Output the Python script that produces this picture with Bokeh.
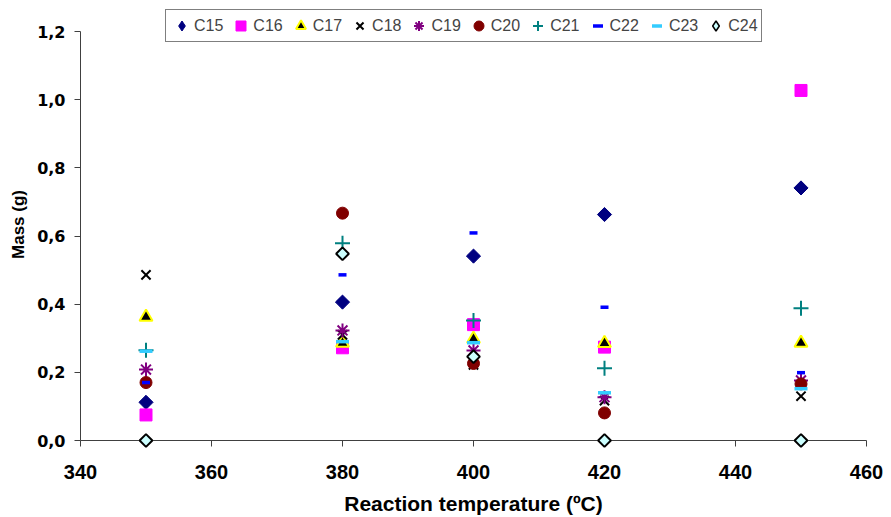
import math
from bokeh.plotting import figure
from bokeh.models import Legend, LegendItem, CustomJSTickFormatter, FixedTicker, Range1d
from bokeh.embed import file_html
from bokeh.resources import INLINE

temps = [350, 380, 400, 420, 450]
names = ["C15", "C16", "C17", "C18", "C19", "C20", "C21", "C22", "C23", "C24"]
c15 = [0.112, 0.406, 0.541, 0.663, 0.741]
c16 = [0.075, 0.272, 0.340, 0.274, 1.027]
c17 = [0.362, 0.286, 0.298, 0.285, 0.286]
c18 = [0.486, 0.310, 0.222, 0.117, 0.130]
c19 = [0.208, 0.323, 0.264, 0.127, 0.176]
c20 = [0.170, 0.667, 0.226, 0.081, 0.166]
c21 = [0.265, 0.579, 0.352, 0.212, 0.388]
c22 = [0.170, 0.486, 0.609, 0.391, 0.199]
c23 = [0.262, 0.290, 0.287, 0.140, 0.152]
c24 = [0.0, 0.548, 0.246, 0.0, 0.0]
series = [c15, c16, c17, c18, c19, c20, c21, c22, c23, c24]

x_ticks = [340, 360, 380, 400, 420, 440, 460]
y_ticks = [0.0, 0.2, 0.4, 0.6, 0.8, 1.0, 1.2]
y_max = 1.2

# frame spans 8..440 px; the axis itself ends at 1.2 (31 px)
frame_top, axis_top, frame_bottom = 8, 31, 440
y_end = y_max * (frame_bottom - frame_top) / (frame_bottom - axis_top)

rot = math.pi / 4
styles = [
    dict(marker="square", angle=rot, size=10, fill_color="#000080", line_color="#000080", line_width=1),
    dict(marker="square", size=12, fill_color="#FF00FF", line_color="#FF00FF", line_width=1),
    dict(marker="triangle", size=13, fill_color="black", line_color="#FFFF00", line_width=2),
    dict(marker="x", size=13, fill_color=None, line_color="black", line_width=2),
    dict(marker="asterisk", size=14, fill_color=None, line_color="#800080", line_width=2),
    dict(marker="circle", size=12, fill_color="#800000", line_color="#800000", line_width=1),
    dict(marker="cross", size=15, fill_color=None, line_color="#008080", line_width=2),
    dict(marker="dash", size=8, fill_color=None, line_color="#0000FF", line_width=3.5),
    dict(marker="dash", size=13, fill_color=None, line_color="#33CCFF", line_width=3.5),
    dict(marker="square", angle=rot, size=9, fill_color="#CCFFFF", line_color="black", line_width=2),
]
# legend-only look for the diamond series (legend glyphs ignore angle)
legend_styles = {
    0: dict(marker="diamond", fill_color="#000080", line_color="#000080", line_width=1),
    9: dict(marker="diamond", fill_color="#CCFFFF", line_color="black", line_width=1.5),
}

p = figure(width=886, height=517, output_backend="svg", toolbar_location=None,
           x_range=Range1d(340, 460), y_range=Range1d(0, y_end),
           min_border_left=80, min_border_right=20, min_border_top=frame_top,
           min_border_bottom=517 - frame_bottom)
p.outline_line_color = None
p.xgrid.visible = False
p.ygrid.visible = False

items = []
for i, (name, vals, st) in enumerate(zip(names, series, styles)):
    r = p.scatter(temps, vals, **st)
    r.level = "overlay"
    if i in legend_styles:
        lr = p.scatter(temps, vals, size=10, **legend_styles[i])
        lr.visible = False
        items.append(LegendItem(label=name, renderers=[lr]))
    else:
        items.append(LegendItem(label=name, renderers=[r]))

p.xaxis.ticker = FixedTicker(ticks=x_ticks)
p.yaxis.ticker = FixedTicker(ticks=y_ticks)
p.yaxis.bounds = (0, y_max)
p.yaxis.formatter = CustomJSTickFormatter(code="return tick.toFixed(1).replace('.', ',');")
for ax in (p.xaxis, p.yaxis):
    ax.major_label_text_font_style = "bold"
    ax.major_label_text_color = "black"
    ax.axis_label_text_font = "Liberation Sans"
    ax.axis_label_text_font_style = "bold"
    ax.axis_label_text_color = "black"
    ax.axis_line_color = "#404040"
    ax.major_tick_line_color = "#404040"
    ax.major_tick_out = 6
    ax.major_tick_in = 0
    ax.minor_tick_line_color = None

p.yaxis.major_label_text_font = "DejaVu Sans"
p.yaxis.major_label_text_font_size = "16px"
p.xaxis.major_label_text_font = "Liberation Sans"
p.xaxis.major_label_text_font_size = "20px"
p.xaxis.axis_label_text_font_size = "21px"
p.yaxis.axis_label_text_font_size = "17px"

p.xaxis.axis_label = "Reaction temperature (ºC)"
p.yaxis.axis_label = "Mass (g)"
p.xaxis.major_label_standoff = 18
p.xaxis.axis_label_standoff = 10
p.yaxis.major_label_standoff = 9
p.yaxis.axis_label_standoff = 6

legend = Legend(items=items, orientation="horizontal",
                location=(85, frame_bottom - 42),
                label_text_font="Liberation Sans", label_text_font_size="16px",
                glyph_width=25, glyph_height=25, label_standoff=0, spacing=5,
                padding=3, margin=0, border_line_color="black", border_line_width=1,
                background_fill_color="white", background_fill_alpha=1.0,
                inactive_fill_alpha=0.0)
p.add_layout(legend)

open("out.html", "w").write(file_html(p, INLINE))
